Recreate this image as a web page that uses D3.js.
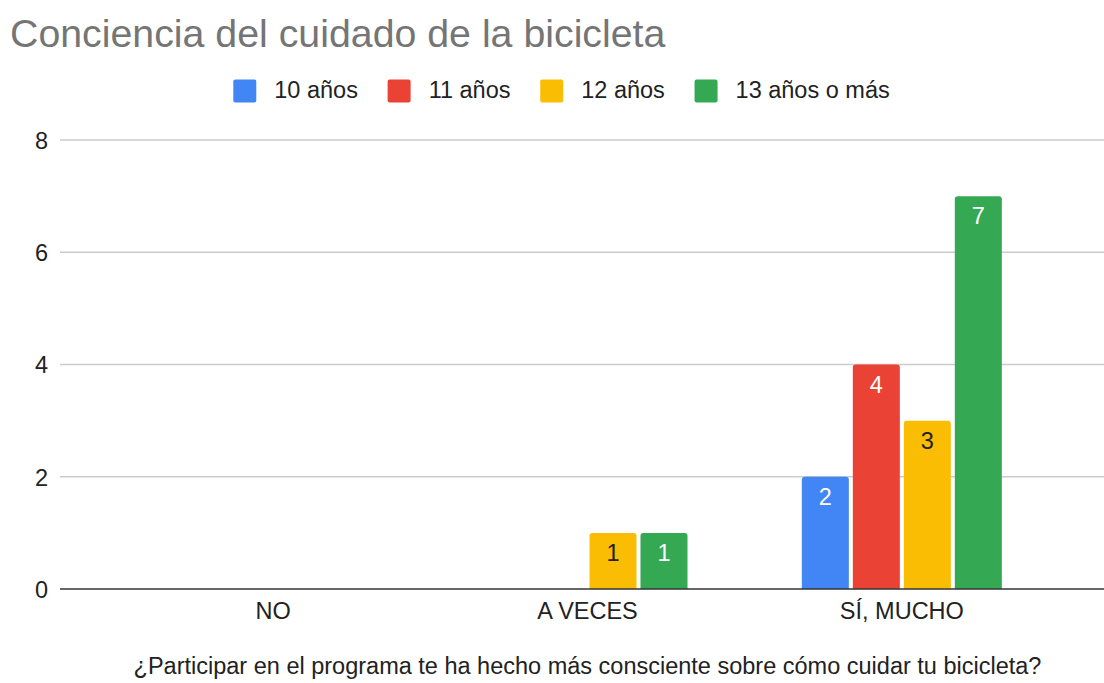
<!DOCTYPE html>
<html>
<head>
<meta charset="utf-8">
<script src="https://cdn.jsdelivr.net/npm/d3@7"></script>
<style>
  html, body { margin: 0; padding: 0; background: #fff; }
  svg { display: block; font-family: "Liberation Sans", Arial, sans-serif; }
</style>
</head>
<body>
<svg id="chart" width="1104" height="683"></svg>
<script>
const title = "Conciencia del cuidado de la bicicleta";
const xTitle = "¿Participar en el programa te ha hecho más consciente sobre cómo cuidar tu bicicleta?";
const categories = ["NO", "A VECES", "SÍ, MUCHO"];
const seriesNames = ["10 años", "11 años", "12 años", "13 años o más"];
const seriesColors = ["#4285F4", "#EA4335", "#FBBC04", "#34A853"];
const labelColors = ["#ffffff", "#ffffff", "#222222", "#ffffff"];
const values10 = [0, 0, 2];
const values11 = [0, 0, 4];
const values12 = [0, 1, 3];
const values13 = [0, 1, 7];
const yTicks = [0, 2, 4, 6, 8];

const seriesValues = [values10, values11, values12, values13];

const svg = d3.select("#chart");
const FS = 23.5;

const gridLeft = 60, gridRight = 1104;
const y = d3.scaleLinear().domain([0, 8]).range([589, 140]);
const x = d3.scaleBand().domain(categories).range([116, 1059]).paddingInner(0).paddingOuter(0);
const groupWidth = 200;
const xInner = d3.scaleBand().domain(seriesNames).range([-groupWidth / 2, groupWidth / 2]).paddingInner(0.078).paddingOuter(0);

// Title
svg.append("text")
  .attr("x", 10).attr("y", 47)
  .attr("font-size", 39.3)
  .attr("fill", "#757575")
  .text(title);

// Legend
const legend = svg.append("g");
const sq = 23, sqGap = 18, itemGap = 29.7;
let lx = 0;
seriesNames.forEach((name, i) => {
  const g = legend.append("g").attr("transform", `translate(${lx},0)`);
  g.append("rect")
    .attr("x", 0).attr("y", 79.5)
    .attr("width", sq).attr("height", sq)
    .attr("rx", 2).attr("ry", 2)
    .attr("fill", seriesColors[i]);
  const t = g.append("text")
    .attr("x", sq + sqGap).attr("y", 98.3)
    .attr("font-size", FS)
    .attr("fill", "#222222")
    .text(name);
  lx += sq + sqGap + t.node().getComputedTextLength() + itemGap;
});
const legendWidth = lx - itemGap;
legend.attr("transform", `translate(${561.5 - legendWidth / 2},0)`);

// Gridlines and y tick labels
const yAxis = d3.axisLeft(y).tickValues(yTicks).tickSize(0).tickPadding(0).tickFormat(d3.format("d"));
const yG = svg.append("g").attr("transform", `translate(${gridLeft - 12},0)`).call(yAxis);
yG.select(".domain").remove();
yG.selectAll("text")
  .attr("font-size", FS)
  .attr("font-family", '"Liberation Sans", Arial, sans-serif')
  .attr("fill", "#222222")
  .attr("dy", "0.36em");

svg.append("g").selectAll("line")
  .data(yTicks.filter(d => d !== 0))
  .join("line")
  .attr("x1", gridLeft).attr("x2", gridRight)
  .attr("y1", d => y(d)).attr("y2", d => y(d))
  .attr("stroke", "#cccccc")
  .attr("stroke-width", 1.4);

// Bars
function barPath(x0, w, yTop, yBase, r) {
  r = Math.min(r, w / 2, (yBase - yTop) / 2);
  return `M${x0},${yBase}V${yTop + r}Q${x0},${yTop} ${x0 + r},${yTop}H${x0 + w - r}Q${x0 + w},${yTop} ${x0 + w},${yTop + r}V${yBase}Z`;
}

const barsData = [];
categories.forEach((c, ci) => {
  seriesNames.forEach((s, si) => {
    const v = seriesValues[si][ci];
    if (v > 0) barsData.push({ c, s, si, v });
  });
});

const barG = svg.append("g");
barG.selectAll("path")
  .data(barsData)
  .join("path")
  .attr("d", d => {
    const x0 = x(d.c) + x.bandwidth() / 2 + xInner(d.s);
    return barPath(x0, xInner.bandwidth(), y(d.v), y(0), 3);
  })
  .attr("fill", d => seriesColors[d.si]);

barG.selectAll("text")
  .data(barsData)
  .join("text")
  .attr("x", d => x(d.c) + x.bandwidth() / 2 + xInner(d.s) + xInner.bandwidth() / 2)
  .attr("y", d => y(d.v) + 28)
  .attr("text-anchor", "middle")
  .attr("font-size", FS)
  .attr("fill", d => labelColors[d.si])
  .text(d => d.v);

// Baseline
svg.append("line")
  .attr("x1", gridLeft).attr("x2", gridRight)
  .attr("y1", y(0)).attr("y2", y(0))
  .attr("stroke", "#333333")
  .attr("stroke-width", 1.6);

// X axis labels
const xAxis = d3.axisBottom(x).tickSize(0).tickPadding(0);
const xG = svg.append("g").attr("transform", `translate(0,${y(0)})`).call(xAxis);
xG.select(".domain").remove();
xG.selectAll("text")
  .attr("font-size", FS)
  .attr("font-family", '"Liberation Sans", Arial, sans-serif')
  .attr("fill", "#222222")
  .attr("dy", 0)
  .attr("y", 30);

// X axis title
svg.append("text")
  .attr("x", x.range()[0] + (x.range()[1] - x.range()[0]) / 2)
  .attr("y", 674)
  .attr("text-anchor", "middle")
  .attr("font-size", FS)
  .attr("fill", "#222222")
  .text(xTitle);
</script>
</body>
</html>
